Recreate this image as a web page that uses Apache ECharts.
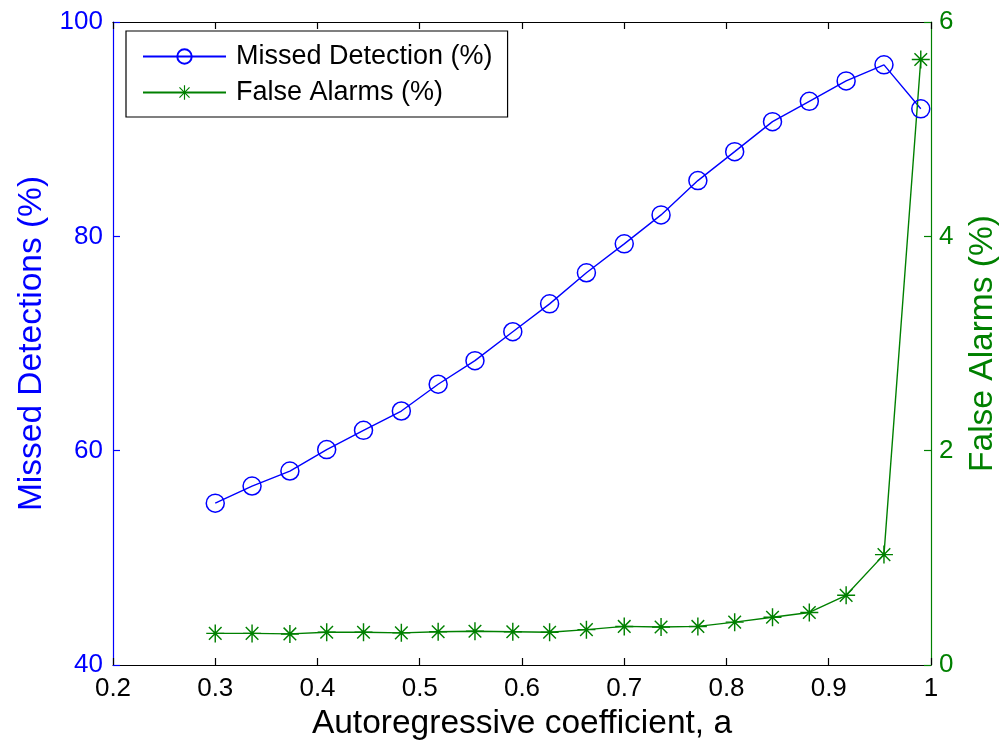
<!DOCTYPE html>
<html>
<head>
<meta charset="utf-8">
<script src="https://cdn.jsdelivr.net/npm/echarts@6/dist/echarts.min.js"></script>
<style>
html,body{margin:0;padding:0;background:#fff;}
#chart{width:1003px;height:740px;}
</style>
</head>
<body>
<div id="chart"></div>
<script>
const coeffs = [0.300, 0.336, 0.373, 0.409, 0.445, 0.482, 0.518, 0.554, 0.591, 0.627, 0.663, 0.700, 0.736, 0.772, 0.808, 0.845, 0.881, 0.917, 0.954, 0.990];
const missedDetection = [55.1, 56.7, 58.1, 60.1, 61.9, 63.7, 66.2, 68.4, 71.1, 73.7, 76.6, 79.3, 82.0, 85.2, 87.9, 90.7, 92.6, 94.5, 96.0, 91.9];
const falseAlarms = [0.295, 0.295, 0.29, 0.305, 0.305, 0.30, 0.31, 0.315, 0.31, 0.305, 0.33, 0.36, 0.355, 0.36, 0.40, 0.445, 0.49, 0.65, 1.03, 5.65];
const seriesNames = ['Missed Detection (%)', 'False Alarms (%)'];
const axisTitles = { x: 'Autoregressive coefficient, a', yLeft: 'Missed Detections (%)', yRight: 'False Alarms (%)' };

const BLUE = '#0000ff', GREEN = '#008000';
const FONT = '"Liberation Sans", Arial, sans-serif';
const star = 'path://M-0.8,-10 L0.8,-10 L0.8,10 L-0.8,10 Z M-10,-0.8 L10,-0.8 L10,0.8 L-10,0.8 Z ' +
  'M-6.434,-7.566 L7.566,6.434 L6.434,7.566 L-7.566,-6.434 Z M-7.566,6.434 L6.434,-7.566 L7.566,-6.434 L-6.434,7.566 Z';

const chart = echarts.init(document.getElementById('chart'), null, {renderer: 'canvas'});
chart.setOption({
  animation: false,
  backgroundColor: '#fff',
  textStyle: { fontFamily: FONT },
  grid: { left: 113, right: 72, top: 22, bottom: 75, containLabel: false, outerBoundsMode: 'none' },
  legend: {
    orient: 'vertical', left: 126, top: 31,
    backgroundColor: '#fff', borderColor: '#000', borderWidth: 1.2,
    padding: [12, 15, 11, 16],
    itemWidth: 83, itemHeight: 18, itemGap: 9,
    textStyle: { fontSize: 27, color: '#000', fontFamily: FONT, padding: [0, 0, 0, 5], lineHeight: 27 },
    data: seriesNames
  },
  xAxis: [{
    type: 'value', min: 0.2, max: 1, interval: 0.1, position: 'bottom',
    name: axisTitles.x, nameLocation: 'middle', nameGap: 26,
    nameTextStyle: { fontSize: 33.5, color: '#000', fontFamily: FONT },
    axisLine: { show: true, lineStyle: { color: '#000', width: 1.2 } },
    axisTick: { show: true, inside: true, length: 7, lineStyle: { color: '#000', width: 1.2 } },
    axisLabel: { fontSize: 26, color: '#000', margin: 11, showMinLabel: true, showMaxLabel: true, fontFamily: FONT },
    splitLine: { show: false }
  }, {
    type: 'value', min: 0.2, max: 1, interval: 0.1, position: 'top',
    axisLine: { show: true, lineStyle: { color: '#000', width: 1.2 } },
    axisTick: { show: true, inside: true, length: 7, lineStyle: { color: '#000', width: 1.2 } },
    axisLabel: { show: false }, splitLine: { show: false }
  }],
  yAxis: [{
    type: 'value', min: 40, max: 100, interval: 20, position: 'left',
    name: axisTitles.yLeft, nameLocation: 'middle', nameRotate: 90, nameGap: 63,
    nameTextStyle: { fontSize: 33.5, color: BLUE, fontFamily: FONT },
    axisLine: { show: true, lineStyle: { color: BLUE, width: 1.2 } },
    axisTick: { show: true, inside: true, length: 7, lineStyle: { color: BLUE, width: 1.2 } },
    axisLabel: { fontSize: 26, color: BLUE, margin: 10, showMinLabel: true, showMaxLabel: true, fontFamily: FONT },
    splitLine: { show: false }
  }, {
    type: 'value', min: 0, max: 6, interval: 2, position: 'right',
    name: axisTitles.yRight, nameLocation: 'middle', nameRotate: 90, nameGap: 35,
    nameTextStyle: { fontSize: 33.5, color: GREEN, fontFamily: FONT },
    axisLine: { show: true, lineStyle: { color: GREEN, width: 1.2 } },
    axisTick: { show: true, inside: true, length: 7, lineStyle: { color: GREEN, width: 1.2 } },
    axisLabel: { fontSize: 26, color: GREEN, margin: 8, showMinLabel: true, showMaxLabel: true, fontFamily: FONT },
    splitLine: { show: false }
  }],
  series: [{
    name: seriesNames[0], type: 'line', xAxisIndex: 0, yAxisIndex: 0,
    data: coeffs.map((c, i) => [c, missedDetection[i]]),
    symbol: 'circle', symbolSize: 18,
    lineStyle: { color: BLUE, width: 1.4 },
    itemStyle: { color: 'rgba(0,0,0,0)', borderColor: BLUE, borderWidth: 1.5 },
    emphasis: { disabled: true }
  }, {
    name: seriesNames[1], type: 'line', xAxisIndex: 0, yAxisIndex: 1,
    data: coeffs.map((c, i) => [c, falseAlarms[i]]),
    symbol: star, symbolSize: 18,
    lineStyle: { color: GREEN, width: 1.4 },
    itemStyle: { color: GREEN, borderWidth: 0 },
    emphasis: { disabled: true }
  }]
});
</script>
</body>
</html>
